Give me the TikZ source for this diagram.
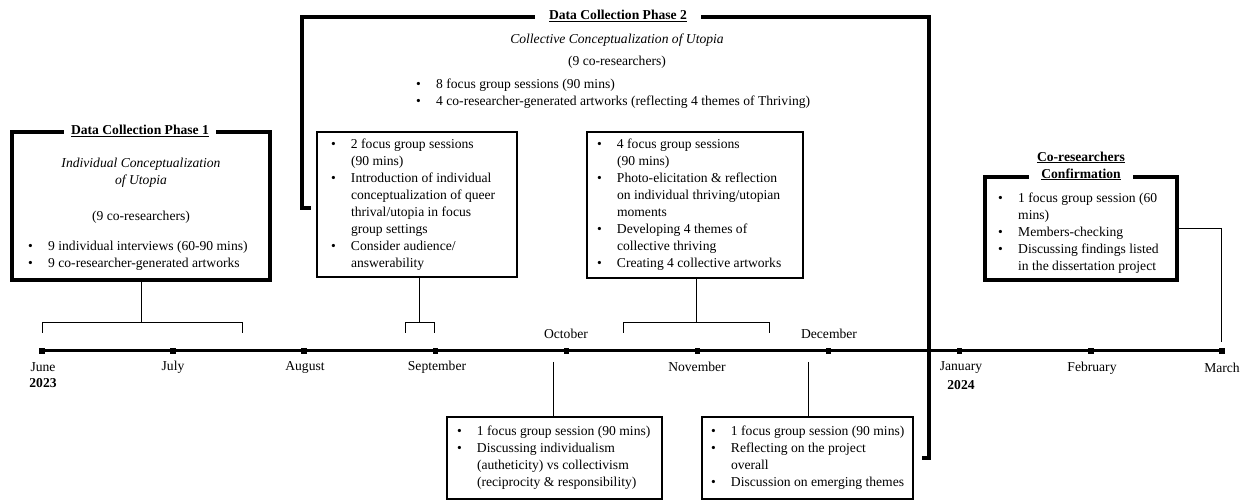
\documentclass[tikz,border=0pt]{standalone}
\usepackage{fontspec}
\setmainfont{Liberation Serif}
\newcommand\fs{\fontsize{13.6}{17}\selectfont}
\newcommand\bu{\makebox[20pt][l]{\textbullet}}
\newcommand\ct{\hspace*{20pt}}
\newcommand\tb[2]{\makebox[#1][l]{\begin{tabular}{@{}l@{}}#2\end{tabular}}}
\begin{document}
\begin{tikzpicture}[x=1pt,y=-1pt,
  every node/.style={font=\fs, inner sep=0pt},
  frame/.style={line width=4pt, line join=miter},
  thinbox/.style={draw, line width=1.3pt, inner sep=0pt},
  conn/.style={line width=0.9pt},
  tl/.style={line width=3pt},
  tick/.style={fill, minimum size=5.5pt, inner sep=0pt},
  ttl/.style={font=\fs\bfseries, align=center},
]
\useasboundingbox (0,0) rectangle (1248,502);

% timeline
\node[tick] (m1) at (42,351) {};
\node[tick] (m2) at (173.1,351) {};
\node[tick] (m3) at (304.2,351) {};
\node[tick] (m4) at (435.3,351) {};
\node[tick] (m5) at (566.4,351) {};
\node[tick] (m6) at (697.5,351) {};
\node[tick] (m7) at (828.6,351) {};
\node[tick] (m8) at (959.7,351) {};
\node[tick] (m9) at (1090.8,351) {};
\node[tick] (m10) at (1221.9,351) {};
\draw[tl] (m1.center) -- (m10.center);

\node (lJun) at (43,367) {June};
\node[font=\fs\bfseries] (y23) at (43,383) {2023};
\node (lJul) at (173,367) {July};
\node (lAug) at (305,367) {August};
\node (lSep) at (437,367) {September};
\node (lOct) at (566,334) {October};
\node (lNov) at (697,367) {November};
\node (lDec) at (829,334) {December};
\node (lJan) at (961,368) {January};
\node[font=\fs\bfseries] (y24) at (961,385) {2024};
\node (lFeb) at (1092,368) {February};
\node (lMar) at (1222,368) {March};

% Phase 1
\node[minimum width=258pt, minimum height=148pt] (p1) at (141,206) {};
\node[ttl, inner xsep=7pt] (p1t) at (140,131) {\underline{Data Collection Phase 1}};
\draw[frame] (p1t.west |- p1.north) -- (p1.north west) -- (p1.south west) -- (p1.south east) -- (p1.north east) -- (p1t.east |- p1.north);
\node[font=\fs\itshape, align=center] (p1a) at (141,173) {Individual Conceptualization\\of Utopia};
\node (p1b) at (141,217) {(9 co-researchers)};
\node[anchor=west] (p1c) at (28,256) {\begin{tabular}{@{}l@{}}\bu 9 individual interviews (60-90 mins)\\ \bu 9 co-researcher-generated artworks\end{tabular}};
\coordinate (k0) at (141,322);
\draw[conn] (p1.south) -- (k0);
\draw[conn] (42,333) -- (42,322) -- (242,322) -- (242,333);

% Phase 2
\node[ttl, inner xsep=14pt] (p2t) at (618,16) {\underline{Data Collection Phase 2}};
\coordinate (p2nw) at (302,17);
\coordinate (p2ne) at (929,17);
\coordinate (p2sw) at (302,208);
\coordinate (p2se) at (929,458);
\draw[frame] (p2t.west |- p2nw) -- (p2nw) -- (p2sw) -- ++(9,0);
\draw[frame] (p2t.east |- p2ne) -- (p2ne) -- (p2se) -- ++(-7,0);
\node[font=\fs\itshape] (p2a) at (617,40) {Collective Conceptualization of Utopia};
\node (p2b) at (617,62) {(9 co-researchers)};
\node[anchor=west] (p2c) at (416,93.5) {\begin{tabular}{@{}l@{}}\bu 8 focus group sessions (90 mins)\\ \bu 4 co-researcher-generated artworks (reflecting 4 themes of Thriving)\end{tabular}};

% middle boxes
\node[thinbox, minimum width=200pt, minimum height=145pt] (mb1) at (417,204.5) {\tb{172pt}{\bu 2 focus group sessions\\ \ct (90 mins)\\ \bu Introduction of individual\\ \ct conceptualization of queer\\ \ct thrival/utopia in focus\\ \ct group settings\\ \bu Consider audience/\\ \ct answerability}};
\coordinate (k1) at (419,322);
\draw[conn] (mb1.south -| k1) -- (k1);
\draw[conn] (405,333) -- (405,322) -- (434,322) -- (434,333);

\node[thinbox, minimum width=216pt, minimum height=146pt] (mb2) at (695,205) {\tb{196pt}{\bu 4 focus group sessions\\ \ct (90 mins)\\ \bu Photo-elicitation \& reflection\\ \ct on individual thriving/utopian\\ \ct moments\\ \bu Developing 4 themes of\\ \ct collective thriving\\ \bu Creating 4 collective artworks}};
\coordinate (k2) at (696,322);
\draw[conn] (mb2.south -| k2) -- (k2);
\draw[conn] (623,333) -- (623,322) -- (769,322) -- (769,333);

% bottom boxes
\node[thinbox, minimum width=215pt, minimum height=82pt] (bb1) at (554.5,458) {\tb{195pt}{\bu 1 focus group session (90 mins)\\ \bu Discussing individualism\\ \ct (autheticity) vs collectivism\\ \ct (reciprocity \& responsibility)}};
\coordinate (k3) at (553,362);
\draw[conn] (k3) -- (k3 |- bb1.north);

\node[thinbox, minimum width=211pt, minimum height=82pt] (bb2) at (807.5,458) {\tb{193pt}{\bu 1 focus group session (90 mins)\\ \bu Reflecting on the project\\ \ct overall\\ \bu Discussion on emerging themes}};
\coordinate (k4) at (808,362);
\draw[conn] (k4) -- (k4 |- bb2.north);

% right box
\node[minimum width=192pt, minimum height=103pt] (rb) at (1081,228.5) {};
\node[ttl, inner xsep=8pt] (rbt) at (1081,166) {\underline{Co-researchers}\\\underline{Confirmation}};
\draw[frame] (rbt.west |- rb.north) -- (rb.north west) -- (rb.south west) -- (rb.south east) -- (rb.north east) -- (rbt.east |- rb.north);
\node[anchor=west] (rbx) at (998,233.5) {\begin{tabular}{@{}l@{}}\bu 1 focus group session (60\\ \ct mins)\\ \bu Members-checking\\ \bu Discussing findings listed\\ \ct in the dissertation project\end{tabular}};
\coordinate (k5) at (1221,342);
\draw[conn] (rb.east) -- (rb.east -| k5) -- (k5);
\end{tikzpicture}
\end{document}
